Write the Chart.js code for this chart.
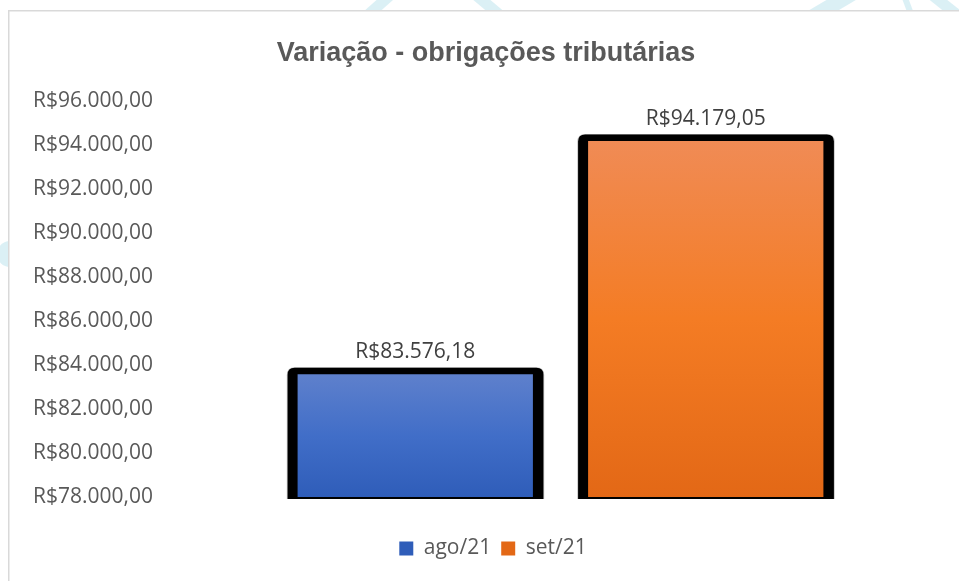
<!DOCTYPE html>
<html>
<head>
<meta charset="utf-8">
<script src="https://cdn.jsdelivr.net/npm/chart.js@4.4.0/dist/chart.umd.min.js"></script>
<style>
html,body{margin:0;padding:0;background:#fff;}
#wrap{width:959px;height:581px;position:relative;}
</style>
</head>
<body>
<div id="wrap"><canvas id="c" width="959" height="581"></canvas></div>
<script>
// ---- data ----
const categories = ['ago/21', 'set/21'];
const values = [83576.18, 94179.05];
const yMin = 78000;
const yMax = 96000;
const yStep = 2000;
const titleText = 'Variação - obrigações tributárias';

// ---- styles ----
const gradStops = [
  ['#5e80cc', '#416ec8', '#2f5db9'],
  ['#f08b55', '#f47c24', '#e36816']
];
const solidColors = ['#4672c6', '#f07a2c'];

function fmt(v) {
  const neg = v < 0;
  const fixed = Math.abs(v).toFixed(2);
  let [ip, dp] = fixed.split('.');
  ip = ip.replace(/\B(?=(\d{3})+(?!\d))/g, '.');
  return (neg ? '-' : '') + 'R$' + ip + ',' + dp;
}

function barFill(idx) {
  return function(ctx) {
    const chart = ctx.chart;
    const area = chart.chartArea;
    if (!area || ctx.type !== 'data' || ctx.raw === undefined) return solidColors[idx];
    const top = chart.scales.y.getPixelForValue(ctx.raw);
    const bottom = area.bottom;
    const g = chart.ctx.createLinearGradient(0, top, 0, bottom);
    g.addColorStop(0, gradStops[idx][0]);
    g.addColorStop(0.5, gradStops[idx][1]);
    g.addColorStop(1, gradStops[idx][2]);
    return g;
  };
}

const bgPlugin = {
  id: 'bg',
  afterLayout(chart) {
    if (chart.titleBlock) { chart.titleBlock.left = 121; chart.titleBlock.right = 851; }
    if (chart.legend) { chart.legend.left = 135; chart.legend.right = 851; }
  },
  beforeDraw(chart) {
    const ctx = chart.ctx;
    ctx.save();
    ctx.fillStyle = '#fff';
    ctx.fillRect(0, 0, chart.width, chart.height);
    ctx.beginPath();
    ctx.rect(0, 0, chart.width, 10);
    ctx.rect(0, 10, 8, chart.height);
    ctx.clip();
    ctx.strokeStyle = 'rgba(175,222,232,0.45)';
    const strokes = [
      [396, -10, 360, 22, 11],
      [470, -10, 508, 22, 11],
      [858, -10, 804, 22, 15],
      [902, -10, 914, 22, 6],
      [926, -10, 966, 22, 11]
    ];
    strokes.forEach(s => {
      ctx.lineWidth = s[4];
      ctx.beginPath(); ctx.moveTo(s[0], s[1]); ctx.lineTo(s[2], s[3]); ctx.stroke();
    });
    ctx.fillStyle = 'rgba(175,222,232,0.45)';
    ctx.beginPath(); ctx.arc(10, 254, 13, 0, Math.PI * 2); ctx.fill();
    ctx.restore();
    ctx.save();
    ctx.fillStyle = '#d9d9d9';
    ctx.fillRect(8, 10, chart.width - 8, 1.5);
    ctx.fillRect(8, 10, 1.5, chart.height - 10);
    ctx.restore();
  }
};

function topRounded(ctx, l, t, r, b, rad) {
  ctx.beginPath();
  ctx.moveTo(l, b);
  ctx.lineTo(l, t + rad);
  ctx.quadraticCurveTo(l, t, l + rad, t);
  ctx.lineTo(r - rad, t);
  ctx.quadraticCurveTo(r, t, r, t + rad);
  ctx.lineTo(r, b);
  ctx.closePath();
}

const outlinePlugin = {
  id: 'outline',
  beforeDatasetsDraw(chart) {
    const ctx = chart.ctx;
    const area = chart.chartArea;
    chart.data.datasets.forEach((ds, i) => {
      const meta = chart.getDatasetMeta(i);
      meta.data.forEach(el => {
        const p = el.getProps(['x', 'y', 'base', 'width'], true);
        const l = p.x - p.width / 2 - 10;
        const r = p.x + p.width / 2 + 10.5;
        const t = p.y - 6.5;
        const b = Math.min(p.base, area.bottom) + 2;
        ctx.save();
        topRounded(ctx, l - 0.8, t - 0.6, r + 0.8, b, 8);
        ctx.fillStyle = 'rgba(0,0,0,0.25)';
        ctx.fill();
        topRounded(ctx, l, t, r, b, 7);
        ctx.fillStyle = '#000';
        ctx.fill();
        ctx.restore();
      });
    });
  }
};

const labelPlugin = {
  id: 'vlabels',
  afterDatasetsDraw(chart) {
    const ctx = chart.ctx;
    ctx.save();
    ctx.font = '21px "Open Sans", sans-serif';
    ctx.fillStyle = '#404040';
    ctx.textAlign = 'center';
    ctx.textBaseline = 'middle';
    chart.data.datasets.forEach((ds, i) => {
      const meta = chart.getDatasetMeta(i);
      meta.data.forEach((el, j) => {
        const p = el.getProps(['x', 'y'], true);
        ctx.fillText(fmt(ds.data[j]), p.x, p.y - 22);
      });
    });
    ctx.restore();
  }
};

const datasets = categories.map((name, i) => ({
  label: name,
  data: [values[i]],
  backgroundColor: barFill(i),
  borderWidth: 0,
  categoryPercentage: 1.0,
  barPercentage: 0.81
}));

new Chart(document.getElementById('c'), {
  type: 'bar',
  data: { labels: [''], datasets: datasets },
  options: {
    responsive: false,
    animation: false,
    devicePixelRatio: 1,
    layout: { padding: { left: 20, right: 108, top: 10, bottom: 12 } },
    plugins: {
      title: {
        display: true,
        text: titleText,
        color: '#595959',
        font: { family: '"Liberation Sans", Arial, sans-serif', size: 27, weight: 'bold' },
        padding: { top: 27, bottom: 31.6 }
      },
      legend: {
        position: 'bottom',
        labels: {
          boxWidth: 14, boxHeight: 14, padding: 10, color: '#595959',
          font: { family: '"Open Sans", sans-serif', size: 21 }
        }
      },
      tooltip: { enabled: false }
    },
    scales: {
      x: {
        grid: { display: false, drawTicks: false },
        border: { display: false },
        ticks: { display: false },
        afterFit(s) { s.height = 31; }
      },
      y: {
        min: yMin, max: yMax,
        ticks: {
          stepSize: yStep, padding: 117, color: '#595959',
          font: { family: '"Open Sans", sans-serif', size: 21 },
          callback: v => fmt(v)
        },
        grid: { display: false, drawTicks: false },
        border: { display: false },
        afterFit(s) { s.width = 250; s.paddingTop = 12; s.paddingBottom = 12; }
      }
    }
  },
  plugins: [bgPlugin, outlinePlugin, labelPlugin]
});
</script>
</body>
</html>
